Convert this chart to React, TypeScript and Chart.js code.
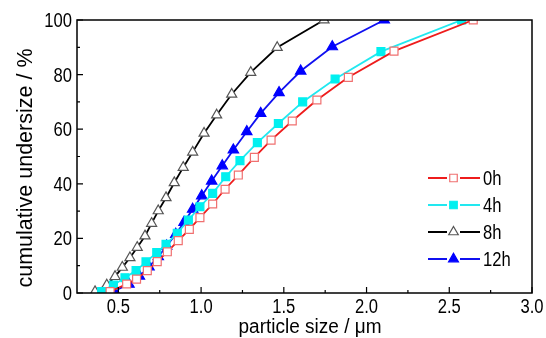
import React, { useEffect, useRef } from "react";
import { Chart, registerables } from "chart.js";

Chart.register(...registerables);

const seriesNames = ["0h", "4h", "8h", "12h"];

const x0h = [0.45, 0.55, 0.61, 0.675, 0.735, 0.796, 0.862, 0.929, 0.993, 1.07, 1.145, 1.225, 1.322, 1.423, 1.551, 1.7, 1.89, 2.166, 2.645];
const y0h = [0.5, 3.3, 5.1, 8.2, 11.5, 15.1, 19.2, 23.3, 27.6, 32.6, 38.0, 43.2, 49.7, 56.0, 63.0, 70.7, 79.0, 88.6, 100];

const x4h = [0.399, 0.47, 0.54, 0.607, 0.667, 0.732, 0.788, 0.856, 0.923, 0.993, 1.07, 1.149, 1.235, 1.34, 1.467, 1.614, 1.81, 2.087, 2.575];
const y4h = [0.5, 2.9, 5.6, 8.2, 11.4, 14.8, 17.8, 21.9, 26.7, 31.6, 36.5, 42.6, 48.5, 55.1, 62.1, 70.0, 78.4, 88.4, 100];

const x8h = [0.359, 0.43, 0.48, 0.524, 0.57, 0.614, 0.661, 0.701, 0.741, 0.788, 0.838, 0.892, 0.949, 1.018, 1.094, 1.185, 1.3, 1.46, 1.743];
const y8h = [0.5, 2.9, 6.0, 9.4, 12.9, 16.7, 20.9, 25.5, 30.1, 34.9, 40.4, 46.0, 51.6, 58.5, 65.2, 72.8, 80.8, 89.9, 100];

const x12h = [0.476, 0.564, 0.627, 0.685, 0.741, 0.792, 0.847, 0.897, 0.949, 1.004, 1.064, 1.128, 1.195, 1.276, 1.36, 1.471, 1.602, 1.793, 2.107];
const y12h = [0.8, 3.2, 6.2, 9.6, 13.3, 17.2, 21.5, 25.9, 30.7, 35.6, 41.0, 46.6, 52.4, 59.1, 65.8, 73.4, 81.3, 90.2, 100];

const xMajorTicks = [0.5, 1.0, 1.5, 2.0, 2.5, 3.0];
const xMinorTicks = [0.75, 1.25, 1.75, 2.25, 2.75];
const yMajorTicks = [0, 20, 40, 60, 80, 100];
const yMinorTicks = [10, 30, 50, 70, 90];
const xTickLabels = ["0.5", "1.0", "1.5", "2.0", "2.5", "3.0"];
const yTickLabels = ["0", "20", "40", "60", "80", "100"];

const xTitle = "particle size / \u03bcm";
const yTitle = "cumulative undersize / %";

const FONT = "'Liberation Sans', Arial, sans-serif";
const NARROW_SCALE = 0.83;

const pts = (xs: number[], ys: number[]) => xs.map((x, i) => ({ x, y: ys[i] }));

function scaledText(ctx: CanvasRenderingContext2D, text: string, x: number, y: number, size: number, sx: number, align: CanvasTextAlign, rot = 0) {
  ctx.save();
  ctx.translate(x, y);
  if (rot) ctx.rotate(rot);
  ctx.scale(sx, 1);
  ctx.font = size + "px " + FONT;
  ctx.textAlign = align;
  ctx.textBaseline = "alphabetic";
  ctx.fillText(text, 0, 0);
  ctx.restore();
}

function drawMarker(ctx: CanvasRenderingContext2D, style: string, r: number, x: number, y: number) {
  ctx.beginPath();
  if (style === "rect") {
    const s = Math.SQRT1_2 * r;
    ctx.rect(x - s, y - s, 2 * s, 2 * s);
  } else {
    for (let k = 0; k < 3; k++) {
      const ang = -Math.PI / 2 + (k * 2 * Math.PI) / 3;
      const px = x + Math.cos(ang) * r;
      const py = y + Math.sin(ang) * r;
      if (k === 0) ctx.moveTo(px, py);
      else ctx.lineTo(px, py);
    }
    ctx.closePath();
  }
  ctx.fill();
  ctx.stroke();
}

const decorPlugin = {
  id: "decor",
  afterDraw(chart: any) {
    const { ctx, chartArea } = chart;
    const xs = chart.scales.x;
    const ys = chart.scales.y;
    const { left, right, top, bottom } = chartArea;
    ctx.save();
    ctx.strokeStyle = "#000";
    ctx.lineWidth = 1.5;
    ctx.strokeRect(left, top, right - left, bottom - top);
    ctx.lineWidth = 1.2;
    ctx.beginPath();
    xMajorTicks.forEach((v) => {
      const p = xs.getPixelForValue(v);
      ctx.moveTo(p, bottom);
      ctx.lineTo(p, bottom - 6);
    });
    xMinorTicks.forEach((v) => {
      const p = xs.getPixelForValue(v);
      ctx.moveTo(p, bottom);
      ctx.lineTo(p, bottom - 3);
    });
    yMajorTicks.forEach((v) => {
      const p = ys.getPixelForValue(v);
      ctx.moveTo(left, p);
      ctx.lineTo(left + 6, p);
    });
    yMinorTicks.forEach((v) => {
      const p = ys.getPixelForValue(v);
      ctx.moveTo(left, p);
      ctx.lineTo(left + 3, p);
    });
    ctx.stroke();

    ctx.fillStyle = "#000";
    xMajorTicks.forEach((v, i) => {
      scaledText(ctx, xTickLabels[i], xs.getPixelForValue(v), bottom + 20, 20, NARROW_SCALE, "center");
    });
    yMajorTicks.forEach((v, i) => {
      scaledText(ctx, yTickLabels[i], left - 5, ys.getPixelForValue(v) + 7, 20, NARROW_SCALE, "right");
    });

    // axis titles
    scaledText(ctx, xTitle, 310, 333, 20, 0.95, "center");
    scaledText(ctx, yTitle, 32, 168, 21.5, 1, "center", -Math.PI / 2);

    // legend
    const rows = [178, 205, 232, 259];
    chart.data.datasets.forEach((ds: any, i: number) => {
      const y = rows[i];
      ctx.strokeStyle = ds.borderColor;
      ctx.lineWidth = 1.8;
      ctx.beginPath();
      ctx.moveTo(428, y);
      ctx.lineTo(447, y);
      ctx.moveTo(460, y);
      ctx.lineTo(480, y);
      ctx.stroke();
      ctx.fillStyle = ds.pointBackgroundColor;
      ctx.strokeStyle = ds.pointBorderColor;
      ctx.lineWidth = 1.2;
      drawMarker(ctx, ds.pointStyle, ds.pointRadius * 0.95, 453.5, y);
      ctx.fillStyle = "#000";
      scaledText(ctx, ds.label, 483, y + 7, 20, NARROW_SCALE, "left");
    });
    ctx.restore();
  },
};

export default function App() {
  const ref = useRef<HTMLCanvasElement | null>(null);
  useEffect(() => {
    if (!ref.current) return;
    const mk = (label: string, data: any[], line: string, fill: string, border: string, style: string, r: number) => ({
      label,
      data,
      borderColor: line,
      backgroundColor: line,
      borderWidth: 1.8,
      pointStyle: style,
      pointRadius: r,
      pointBackgroundColor: fill,
      pointBorderColor: border,
      pointBorderWidth: 1.2,
      tension: 0,
      showLine: true,
    });
    const chart = new Chart(ref.current, {
      type: "scatter",
      data: {
        datasets: [
          mk(seriesNames[0], pts(x0h, y0h), "#ee1c1c", "#ffffff", "#f07070", "rect", 5.6),
          mk(seriesNames[1], pts(x4h, y4h), "#22e8f0", "#00f0f0", "#00f0f0", "rect", 5.6),
          mk(seriesNames[2], pts(x8h, y8h), "#000000", "#ffffff", "#555555", "triangle", 5.8),
          mk(seriesNames[3], pts(x12h, y12h), "#1010f0", "#0000ff", "#0000ff", "triangle", 6),
        ],
      },
      options: {
        animation: false,
        responsive: false,
        maintainAspectRatio: false,
        layout: { padding: { left: 0, right: 14, top: 20, bottom: 0 } },
        plugins: { legend: { display: false }, tooltip: { enabled: false } },
        scales: {
          x: {
            type: "linear",
            min: 0.25,
            max: 3.0,
            grid: { display: false, drawTicks: false },
            border: { display: false },
            afterBuildTicks: (s: any) => {
              s.ticks = xMajorTicks.map((v) => ({ value: v }));
            },
            afterFit: (s: any) => {
              s.height = 45;
            },
            ticks: { display: false },
          },
          y: {
            type: "linear",
            min: 0,
            max: 100,
            grid: { display: false, drawTicks: false },
            border: { display: false },
            afterBuildTicks: (s: any) => {
              s.ticks = yMajorTicks.map((v) => ({ value: v }));
            },
            afterFit: (s: any) => {
              s.width = 77;
            },
            ticks: { display: false },
          },
        },
      },
      plugins: [decorPlugin],
    });
    return () => chart.destroy();
  }, []);
  return (
    <div style={{ position: "fixed", left: 0, top: 0, width: 546, height: 338, background: "#fff" }}>
      <canvas ref={ref} width={546} height={338} style={{ width: 546, height: 338 }} />
    </div>
  );
}
